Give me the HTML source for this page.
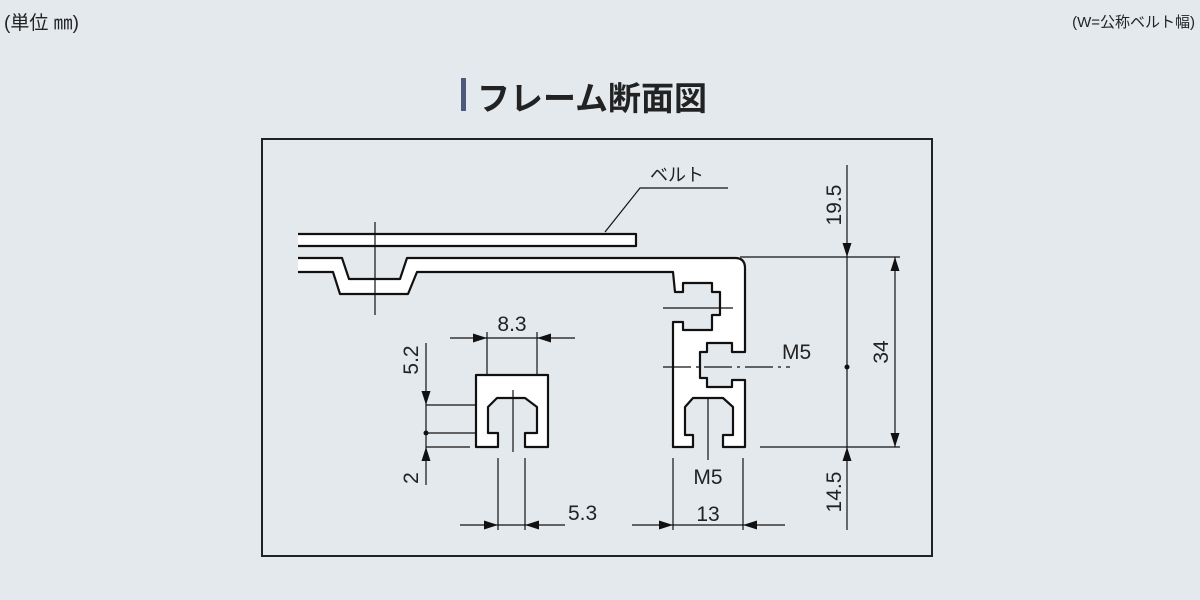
<!DOCTYPE html>
<html><head><meta charset="utf-8"><style>
html,body{margin:0;padding:0;width:1200px;height:600px;background:#e4e9ee;overflow:hidden}
svg{display:block}
text{font-family:"Liberation Sans","Noto Sans CJK JP",sans-serif;fill:#222}
</style></head><body>
<svg width="1200" height="600" viewBox="0 0 1200 600">
<defs>
<marker id="a" markerWidth="14" markerHeight="9" refX="14" refY="4.5" orient="auto" markerUnits="userSpaceOnUse"><path d="M0,0 L14,4.5 L0,9 Z" fill="#111"/></marker>
</defs>
<text x="4" y="29" font-size="19">(単位 ㎜)</text>
<text x="1195" y="27" font-size="15" text-anchor="end">(W=公称ベルト幅)</text>
<rect x="461" y="78" width="5" height="33" fill="#4a5a7a"/>
<text x="477" y="110" font-size="33" font-weight="bold" fill="#1a1a1a">フレーム断面図</text>
<rect x="262" y="139" width="670" height="417" fill="none" stroke="#222" stroke-width="2"/>
<g fill="none" stroke="#111" stroke-width="2.2" stroke-linejoin="round">
<path d="M298,234 H636 V246 H298" fill="#fff"/>
<path d="M298,258 H342 L349,279 H400 L407,258 H735 Q745,258 745,268 V352 H732 V343 H707 V352 H700 V378 H707 V387 H732 V380 H745 V447 H723 V435 H733 V407 L723,398 H693 L685,407 V435 H693 V447 H673 V322 H675 H683 V330 H712 V315 H720 V292 H712 V283 H683 V292 H675 L673,272 H417 L408,294 H340 L333,272 H298" fill="#fff"/>
<path d="M476,375 H548 V447 H525 V433 H537 V407 L525,398 H497 L488,407 V433 H498 V447 H476 Z" fill="#fff"/>
</g>
<g stroke="#111" stroke-width="1.2" fill="none">
<line x1="375" y1="222" x2="375" y2="315"/>
<line x1="663" y1="308" x2="733" y2="308"/>
<line x1="663" y1="367" x2="790" y2="367" stroke-dasharray="28,5,3,5"/>
<line x1="708" y1="398" x2="708" y2="460"/>
<line x1="513" y1="390" x2="513" y2="452"/>
<polyline points="605,232 640,188 728,188"/>
<line x1="487" y1="332" x2="487" y2="375"/><line x1="537" y1="332" x2="537" y2="375"/>
<line x1="450" y1="338" x2="487" y2="338" marker-end="url(#a)"/>
<line x1="575" y1="338" x2="537" y2="338" marker-end="url(#a)"/>
<line x1="487" y1="338" x2="537" y2="338"/>
<line x1="426" y1="343" x2="426" y2="405" marker-end="url(#a)"/>
<line x1="426" y1="485" x2="426" y2="447" marker-end="url(#a)"/>
<line x1="426" y1="405" x2="476" y2="405"/>
<line x1="426" y1="433" x2="476" y2="433"/>
<line x1="426" y1="447" x2="470" y2="447"/>
<line x1="426" y1="405" x2="426" y2="447"/>
<line x1="498" y1="458" x2="498" y2="530"/><line x1="525" y1="458" x2="525" y2="530"/>
<line x1="460" y1="525" x2="498" y2="525" marker-end="url(#a)"/>
<line x1="565" y1="525" x2="525" y2="525" marker-end="url(#a)"/>
<line x1="498" y1="525" x2="525" y2="525"/>
<line x1="673" y1="458" x2="673" y2="530"/><line x1="743" y1="458" x2="743" y2="530"/>
<line x1="632" y1="525" x2="673" y2="525" marker-end="url(#a)"/>
<line x1="785" y1="525" x2="743" y2="525" marker-end="url(#a)"/>
<line x1="673" y1="525" x2="743" y2="525"/>
<line x1="847" y1="165" x2="847" y2="257" marker-end="url(#a)"/>
<line x1="847" y1="530" x2="847" y2="447" marker-end="url(#a)"/>
<line x1="847" y1="257" x2="847" y2="447"/>
<line x1="740" y1="257" x2="900" y2="257"/>
<line x1="760" y1="447" x2="900" y2="447"/>
<line x1="895" y1="300" x2="895" y2="257" marker-end="url(#a)"/>
<line x1="895" y1="400" x2="895" y2="447" marker-end="url(#a)"/>
<line x1="895" y1="300" x2="895" y2="400"/>
</g>
<circle cx="426" cy="433" r="2.5" fill="#111"/>
<circle cx="847" cy="367" r="2.5" fill="#111"/>
<g font-size="21">
<text x="650" y="181" font-size="18">ベルト</text>
<text x="512" y="331" text-anchor="middle">8.3</text>
<text x="568" y="520">5.3</text>
<text x="708" y="521" text-anchor="middle">13</text>
<text x="708" y="484" text-anchor="middle">M5</text>
<text x="782" y="359">M5</text>
<text transform="translate(418,360) rotate(-90)" text-anchor="middle">5.2</text>
<text transform="translate(418,478) rotate(-90)" text-anchor="middle">2</text>
<text transform="translate(841,205) rotate(-90)" text-anchor="middle">19.5</text>
<text transform="translate(841,492) rotate(-90)" text-anchor="middle">14.5</text>
<text transform="translate(888,352) rotate(-90)" text-anchor="middle">34</text>
</g>
</svg>
</body></html>
